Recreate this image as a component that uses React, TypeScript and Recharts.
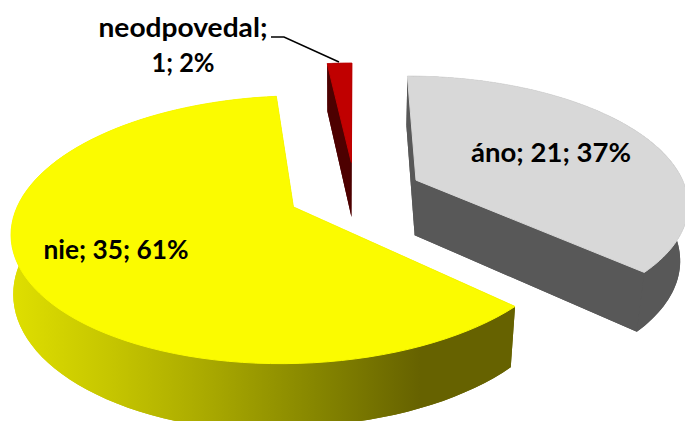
import React from "react";
import { PieChart, Pie, Cell } from "recharts";

const categories = ["áno", "nie", "neodpovedal"];
const counts = [21, 35, 1];
const percents = [37, 61, 2];
const topColors = ["#D8D8D8", "#FBFB00", "#C00000"];
const sideColors = ["#585858", "url(#yellowSide)", "#4D0000"];

const rows = categories.map((name, i) => ({ name, value: counts[i], pct: percents[i] }));

// 3D view of the pie
const TILT = 0.462;
const PERSP = 0.167;
const EXPLODE = 0.25;
const DEPTH = 57;
const DEPTH_PERSP_RIGHT = 0.024;
const DEPTH_PERSP_LEFT = 0.006;
const RAD = Math.PI / 180;

function Slice3D(props: any) {
  const { cx, cy, outerRadius: R, startAngle, endAngle, index } = props;
  const th0 = 90 - startAngle;
  const th1 = 90 - endAngle;
  const mid = ((th0 + th1) / 2) * RAD;
  const u0 = EXPLODE * Math.sin(mid);
  const v0 = -EXPLODE * Math.cos(mid);
  const proj = (u: number, v: number, z: number) => {
    const m = u > 0 ? DEPTH_PERSP_RIGHT : DEPTH_PERSP_LEFT;
    const s = 1 / (1 - PERSP * v + m * z);
    return [cx + R * u * s, cy + s * (R * TILT * v + DEPTH * z)];
  };
  const n = 90;
  const rim: [number, number][] = [];
  for (let i = 0; i <= n; i++) {
    const a = (th0 + ((th1 - th0) * i) / n) * RAD;
    rim.push([u0 + Math.sin(a), v0 - Math.cos(a)]);
  }
  const path = (pts: number[][]) =>
    "M" + pts.map((p) => `${p[0].toFixed(2)},${p[1].toFixed(2)}`).join("L") + "Z";
  const topPts = [proj(u0, v0, 0), ...rim.map((p) => proj(p[0], p[1], 0))];
  const botPts = [proj(u0, v0, 1), ...rim.map((p) => proj(p[0], p[1], 1))];
  const rimWall = path([
    ...rim.map((p) => proj(p[0], p[1], 0)),
    ...rim.map((p) => proj(p[0], p[1], 1)).reverse(),
  ]);
  const wallA = path([proj(u0, v0, 0), topPts[1], botPts[1], proj(u0, v0, 1)]);
  const wallB = path([proj(u0, v0, 0), topPts[n + 1], botPts[n + 1], proj(u0, v0, 1)]);
  const side = sideColors[index];
  const top = topColors[index];
  return (
    <g>
      <path d={path(botPts)} fill={side} />
      <path d={wallA} fill={side} />
      <path d={wallB} fill={side} />
      <path d={rimWall} fill={side} />
      <path d={path(topPts)} fill={top} stroke={top} strokeWidth={1} />
    </g>
  );
}

const FONT = "Lato, 'Open Sans', sans-serif";

function SliceLabel(props: any) {
  const { index } = props;
  const row = rows[index];
  const common = {
    fontFamily: FONT,
    fontWeight: 700,
    fontSize: 27,
    fill: "#000",
    textAnchor: "middle" as const,
    lengthAdjust: "spacingAndGlyphs" as const,
  };
  if (index === 0) {
    return (
      <text x={551} y={162} textLength={160} {...common}>
        {`${row.name}; ${row.value}; ${row.pct}%`}
      </text>
    );
  }
  if (index === 1) {
    return (
      <text x={116} y={259} textLength={145} {...common}>
        {`${row.name}; ${row.value}; ${row.pct}%`}
      </text>
    );
  }
  return (
    <g>
      <text x={183} y={37} textLength={169} {...common}>{`${row.name};`}</text>
      <text x={183} y={72} textLength={63} {...common}>{`${row.value}; ${row.pct}%`}</text>
      <polyline points="271,37 284,37 339,62" fill="none" stroke="#000" strokeWidth={1.5} />
    </g>
  );
}

export default function App() {
  return (
    <div style={{ position: "absolute", left: 0, top: 0, width: 685, height: 421, overflow: "hidden", background: "#fff" }}>
      <PieChart width={685} height={421} margin={{ top: 0, right: 0, bottom: 0, left: 0 }}>
        <defs>
          <linearGradient id="yellowSide" gradientUnits="userSpaceOnUse" x1={15} y1={0} x2={420} y2={0}>
            <stop offset="0" stopColor="#DEDE00" />
            <stop offset="0.25" stopColor="#C4C400" />
            <stop offset="0.5" stopColor="#A6A600" />
            <stop offset="0.75" stopColor="#858500" />
            <stop offset="1" stopColor="#666200" />
          </linearGradient>
        </defs>
        <Pie
          data={rows}
          dataKey="value"
          nameKey="name"
          cx={355}
          cy={192.5}
          outerRadius={271}
          startAngle={90}
          endAngle={-270}
          paddingAngle={0}
          stroke="none"
          shape={Slice3D}
          label={SliceLabel}
          labelLine={false}
          isAnimationActive={false}
        >
          {rows.map((r, i) => (
            <Cell key={r.name} fill={topColors[i]} />
          ))}
        </Pie>
      </PieChart>
    </div>
  );
}
